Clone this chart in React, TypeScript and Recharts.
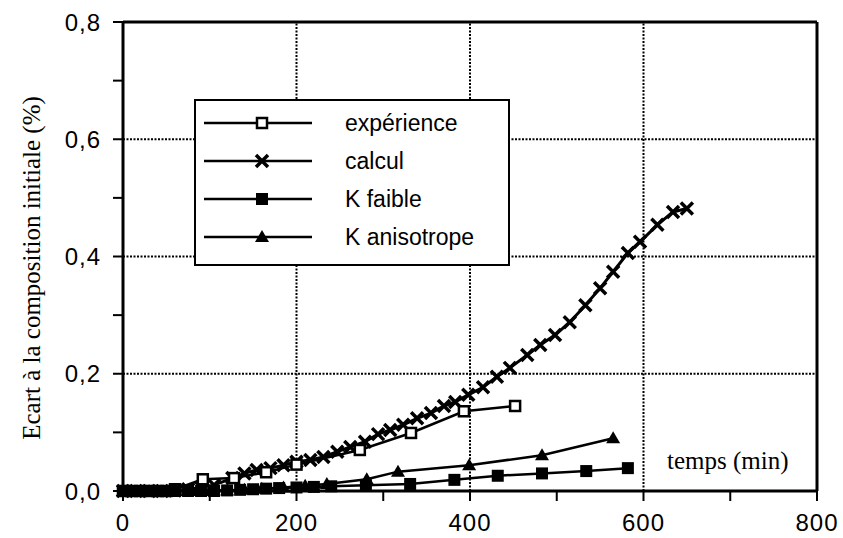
import React from "react";
import {
  LineChart,
  Line,
  XAxis,
  YAxis,
  ReferenceLine,
  Legend,
} from "recharts";

// temps (min) / écart (%)
const experienceX = [0, 10, 20, 30, 40, 50, 60, 92, 128, 165, 200, 273, 332, 393, 452];
const experienceY = [0, 0, 0, 0, 0, 0, 0.003, 0.02, 0.022, 0.032, 0.045, 0.07, 0.099, 0.136, 0.145];

const calculX = [0, 15, 30, 45, 60, 75, 90, 105, 126, 140, 154, 170, 185, 200, 216, 231, 247, 262, 279, 294, 308, 323, 339, 355, 370, 383, 398, 415, 431, 446, 466, 481, 498, 515, 533, 550, 565, 582, 596, 616, 634, 650];
const calculY = [0, 0, 0, 0, 0.001, 0.003, 0.006, 0.01, 0.022, 0.03, 0.036, 0.039, 0.044, 0.05, 0.053, 0.058, 0.067, 0.075, 0.084, 0.097, 0.104, 0.113, 0.124, 0.133, 0.145, 0.152, 0.164, 0.177, 0.195, 0.21, 0.232, 0.249, 0.266, 0.288, 0.317, 0.346, 0.374, 0.406, 0.425, 0.454, 0.476, 0.482];

const kFaibleX = [0, 10, 20, 30, 40, 50, 60, 75, 90, 105, 120, 135, 150, 165, 180, 200, 220, 240, 280, 331, 382, 432, 483, 534, 582];
const kFaibleY = [0, 0, 0, 0, 0, 0, 0, 0, 0, 0, 0.001, 0.002, 0.003, 0.004, 0.005, 0.006, 0.007, 0.008, 0.01, 0.012, 0.019, 0.026, 0.03, 0.034, 0.039];

const kAnisoX = [0, 10, 20, 30, 40, 50, 60, 80, 100, 120, 140, 160, 185, 210, 235, 281, 317, 399, 483, 565];
const kAnisoY = [0, 0, 0, 0, 0, 0, 0, 0, 0, 0.001, 0.002, 0.004, 0.006, 0.009, 0.012, 0.02, 0.033, 0.044, 0.061, 0.09];

const xTicks = [0, 100, 200, 300, 400, 500, 600, 700, 800];
const yTicks = [0, 0.1, 0.2, 0.3, 0.4, 0.5, 0.6, 0.7, 0.8];
const xGrid = [200, 400, 600];
const yGrid = [0.2, 0.4, 0.6];

const legendLabels = ["expérience", "calcul", "K faible", "K anisotrope"];

const zip = (xs: number[], ys: number[]) => xs.map((x, i) => ({ x, y: ys[i] }));

const experienceData = zip(experienceX, experienceY);
const calculData = zip(calculX, calculY);
const kFaibleData = zip(kFaibleX, kFaibleY);
const kAnisoData = zip(kAnisoX, kAnisoY);

const sans = "'Liberation Sans', Arial, Helvetica, sans-serif";
const serif = "'Liberation Serif', 'Times New Roman', serif";

// marqueurs
const openSquare = (cx: number, cy: number, key?: string) => (
  <rect key={key} x={cx - 5} y={cy - 5} width={10} height={10} fill="#fff" stroke="#000" strokeWidth={2.5} />
);
const cross = (cx: number, cy: number, key?: string) => (
  <path
    key={key}
    d={`M${cx - 6},${cy - 6}L${cx + 6},${cy + 6}M${cx + 6},${cy - 6}L${cx - 6},${cy + 6}`}
    stroke="#000"
    strokeWidth={3.5}
    fill="none"
  />
);
const filledSquare = (cx: number, cy: number, key?: string) => (
  <rect key={key} x={cx - 6} y={cy - 6} width={12} height={12} fill="#000" />
);
const triangle = (cx: number, cy: number, key?: string) => (
  <polygon key={key} points={`${cx},${cy - 7} ${cx + 7},${cy + 5} ${cx - 7},${cy + 5}`} fill="#000" />
);

const markers = [openSquare, cross, filledSquare, triangle];

const dotOf = (fn: typeof openSquare, name: string) => (p: any) => {
  if (p.cx == null || p.cy == null) return <g key={`${name}${p.index}`} />;
  return fn(p.cx, p.cy, `${name}${p.index}`);
};

const renderLegend = () => (
  <div
    style={{
      width: 316,
      height: 167,
      border: "2px solid #000",
      boxSizing: "border-box",
      background: "#fff",
      position: "relative",
    }}
  >
    {legendLabels.map((label, i) => (
      <div key={label} style={{ position: "absolute", left: 0, top: 22 + 38 * i - 15, height: 30, width: 312 }}>
        <svg width={130} height={30} style={{ position: "absolute", left: 8, top: 0 }}>
          <line x1={0} y1={15} x2={108} y2={15} stroke="#000" strokeWidth={2.5} />
          {markers[i](58, 15)}
        </svg>
        <span
          style={{
            position: "absolute",
            left: 149,
            top: 0,
            lineHeight: "30px",
            fontFamily: sans,
            fontSize: 23,
            color: "#000",
            whiteSpace: "nowrap",
          }}
        >
          {label}
        </span>
      </div>
    ))}
  </div>
);

const fmtY = (v: number) => {
  const n = Math.round(v * 10);
  return n % 2 === 0 ? (n / 10).toFixed(1).replace(".", ",") : "";
};
const fmtX = (v: number) => (v % 200 === 0 ? String(v) : "");

export default function App() {
  const tickStyle = { fontSize: 24, fill: "#000", fontFamily: sans, letterSpacing: 1 };
  return (
    <div style={{ position: "absolute", left: 0, top: 0, width: 843, height: 538, background: "#fff" }}>
      <LineChart width={843} height={538} margin={{ top: 22, right: 26, bottom: 7, left: 63 }}>
        <XAxis
          type="number"
          dataKey="x"
          domain={[0, 800]}
          ticks={xTicks}
          tickFormatter={fmtX}
          height={40}
          tick={tickStyle}
          tickSize={10}
          tickMargin={13}
          axisLine={{ stroke: "#000", strokeWidth: 3 }}
          tickLine={{ stroke: "#000", strokeWidth: 2 }}
        />
        <YAxis
          type="number"
          dataKey="y"
          domain={[0, 0.8]}
          ticks={yTicks}
          tickFormatter={fmtY}
          width={60}
          tick={tickStyle}
          tickSize={10}
          tickMargin={12}
          axisLine={{ stroke: "#000", strokeWidth: 3 }}
          tickLine={{ stroke: "#000", strokeWidth: 2 }}
        />
        {xGrid.map((v) => (
          <ReferenceLine key={`gx${v}`} x={v} stroke="#000" strokeWidth={2} strokeDasharray="2 1.5" />
        ))}
        {yGrid.map((v) => (
          <ReferenceLine key={`gy${v}`} y={v} stroke="#000" strokeWidth={2} strokeDasharray="2 1.5" />
        ))}
        <ReferenceLine y={0.8} stroke="#000" strokeWidth={3} />
        <ReferenceLine x={800} stroke="#000" strokeWidth={3} />
        <Line
          data={calculData}
          dataKey="y"
          name="calcul"
          type="linear"
          stroke="#000"
          strokeWidth={3}
          dot={dotOf(cross, "c")}
          activeDot={false}
          isAnimationActive={false}
        />
        <Line
          data={experienceData}
          dataKey="y"
          name="expérience"
          type="linear"
          stroke="#000"
          strokeWidth={2.5}
          dot={dotOf(openSquare, "e")}
          activeDot={false}
          isAnimationActive={false}
        />
        <Line
          data={kFaibleData}
          dataKey="y"
          name="K faible"
          type="linear"
          stroke="#000"
          strokeWidth={2.5}
          dot={dotOf(filledSquare, "f")}
          activeDot={false}
          isAnimationActive={false}
        />
        <Line
          data={kAnisoData}
          dataKey="y"
          name="K anisotrope"
          type="linear"
          stroke="#000"
          strokeWidth={2.5}
          dot={dotOf(triangle, "a")}
          activeDot={false}
          isAnimationActive={false}
        />
        <Legend
          layout="vertical"
          align="center"
          verticalAlign="middle"
          content={renderLegend}
          wrapperStyle={{ left: 194, top: 99, width: 316, height: 167 }}
        />
      </LineChart>
      <div
        style={{
          position: "absolute",
          left: 32 - 200,
          top: 268 - 15,
          width: 400,
          height: 30,
          lineHeight: "30px",
          textAlign: "center",
          transform: "rotate(-90deg)",
          fontFamily: serif,
          fontSize: 25,
          color: "#000",
          whiteSpace: "nowrap",
        }}
      >
        Ecart à la composition initiale (%)
      </div>
      <div
        style={{
          position: "absolute",
          left: 667,
          top: 446,
          height: 30,
          lineHeight: "30px",
          fontFamily: serif,
          fontSize: 25,
          color: "#000",
          whiteSpace: "nowrap",
        }}
      >
        temps (min)
      </div>
    </div>
  );
}
